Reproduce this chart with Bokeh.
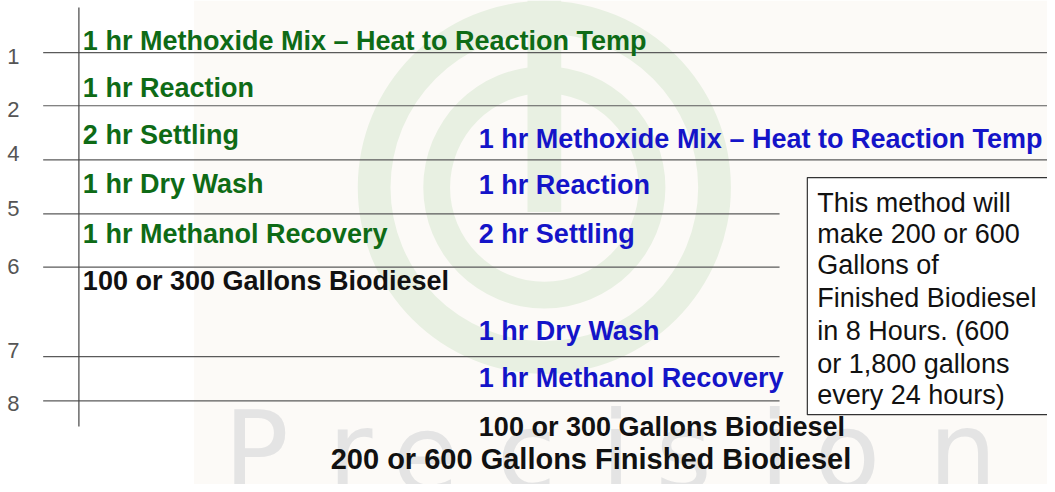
from bokeh.plotting import figure
from bokeh.models import Range1d, ColumnDataSource
from bokeh.core.properties import value
from bokeh.embed import file_html
from bokeh.resources import INLINE

# ---------------- data ----------------
tick_labels = ["1", "2", "4", "5", "6", "7", "8"]

batch1_steps = [
    "1 hr Methoxide Mix \u2013 Heat to Reaction Temp",
    "1 hr Reaction",
    "2 hr Settling",
    "1 hr Dry Wash",
    "1 hr Methanol Recovery",
    "100 or 300 Gallons Biodiesel",
]
batch1_colors = ["#0e6b16"] * 5 + ["#111111"]

batch2_steps = [
    "1 hr Methoxide Mix \u2013 Heat to Reaction Temp",
    "1 hr Reaction",
    "2 hr Settling",
    "1 hr Dry Wash",
    "1 hr Methanol Recovery",
    "100 or 300 Gallons Biodiesel",
]
batch2_colors = ["#1414c8"] * 5 + ["#111111"]

total_label = "200 or 600 Gallons Finished Biodiesel"

note_lines = [
    "This method will",
    "make 200 or 600",
    "Gallons of",
    "Finished Biodiesel",
    "in 8 Hours. (600",
    "or 1,800 gallons",
    "every 24 hours)",
]

watermark_text = "Precision"

# ---------------- layout (reference pixel coordinates) ----------------
tick_line_y = [53, 107, 162, 217, 271, 362, 407]
tick_label_y = [57, 111, 156, 211, 270, 356, 410]
tick_line_x_end = [1055, 1055, 1055, 785, 785, 785, 785]
batch1_y = [41, 89, 137, 187, 237, 285]
batch2_y = [141, 188, 237, 336, 384, 434]
note_y = [206, 237, 269, 302, 336, 369, 401]
watermark_x = [225, 330, 395, 500, 605, 660, 765, 820, 935]

W, H = 1055, 492
M = 8
p = figure(width=W - M, height=H - M, output_backend="svg", toolbar_location=None,
           x_range=Range1d(0, W), y_range=Range1d(H, 0),
           min_border=0, min_border_left=0, min_border_right=0,
           min_border_top=0, min_border_bottom=0)
p.axis.visible = False
p.grid.visible = False
p.outline_line_color = None
p.background_fill_color = "#ffffff"
p.border_fill_color = "#ffffff"

# faint background tint + watermark logo
p.quad(left=[195], right=[W], top=[0], bottom=[H], fill_color="#fcfaf7", line_color=None)
p.annulus(x=[548], y=[190], inner_radius=155, outer_radius=188,
          fill_color="#e8f0e2", line_color=None)
p.annulus(x=[548], y=[190], inner_radius=95, outer_radius=122,
          fill_color="#e8f0e2", line_color=None)
p.quad(left=[531], right=[565], top=[0], bottom=[215], fill_color="#e8f0e2", line_color=None)
letters = list(watermark_text)
p.text(x=watermark_x, y=[458] * len(letters), text=letters,
       text_font=value("DejaVu Sans"), text_font_size="108px", text_color="#e4e4e4",
       text_baseline="alphabetic", text_align="left")

# grid lines
p.segment(x0=[43] * len(tick_line_y), y0=tick_line_y, x1=tick_line_x_end, y1=tick_line_y,
          line_color="#5a5a5a", line_width=1.2)
p.segment(x0=[79], y0=[7], x1=[79], y1=[433], line_color="#444444", line_width=1.2)

# tick labels
p.text(x=[13] * len(tick_labels), y=tick_label_y, text=tick_labels,
       text_font=value("Liberation Sans"), text_font_size="22px", text_color="#555555",
       text_align="center", text_baseline="middle")

# batch text
src1 = ColumnDataSource(dict(x=[83] * len(batch1_steps), y=batch1_y, t=batch1_steps, c=batch1_colors))
p.text(x="x", y="y", text="t", text_color="c", source=src1,
       text_font=value("Liberation Sans"), text_font_style="bold", text_font_size="27px",
       text_baseline="middle", text_align="left")
src2 = ColumnDataSource(dict(x=[482] * len(batch2_steps), y=batch2_y, t=batch2_steps, c=batch2_colors))
p.text(x="x", y="y", text="t", text_color="c", source=src2,
       text_font=value("Liberation Sans"), text_font_style="bold", text_font_size="27px",
       text_baseline="middle", text_align="left")

p.text(x=[595], y=[466], text=[total_label], text_font=value("Liberation Sans"),
       text_font_style="bold", text_font_size="29px", text_color="#111111",
       text_align="center", text_baseline="middle")

# note box
p.quad(left=[813], right=[1062], top=[180], bottom=[421], fill_color="#ffffff",
       line_color="#333333", line_width=1.2)
p.text(x=[823] * len(note_lines), y=note_y, text=note_lines, text_font=value("Liberation Sans"),
       text_font_size="27px", text_color="#111111", text_baseline="middle", text_align="left")

open("out.html", "w").write(file_html(p, INLINE))
